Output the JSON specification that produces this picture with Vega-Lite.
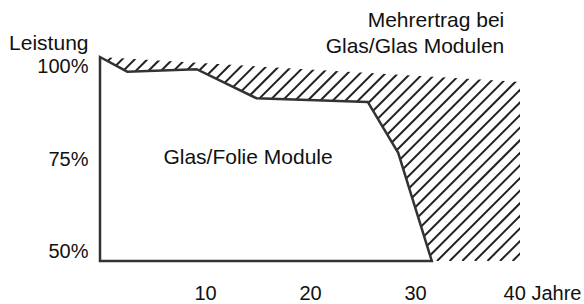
{
  "$schema": "https://vega.github.io/schema/vega-lite/v6.json",
  "width": 420,
  "height": 204,
  "autosize": {"type": "none"},
  "padding": {"left": 100, "top": 57, "right": 64, "bottom": 43},
  "background": "white",
  "config": {
    "view": {"stroke": null},
    "axis": {
      "domain": false,
      "ticks": false,
      "grid": false,
      "labelFont": "Liberation Sans",
      "labelFontSize": 20,
      "labelColor": "#111111",
      "titleFont": "Liberation Sans",
      "titleFontSize": 21,
      "titleColor": "#111111",
      "titleFontWeight": "normal"
    },
    "text": {"font": "Liberation Sans", "fontSize": 21, "color": "#111111"}
  },
  "datasets": {
    "hatch": [
      {"x": -19.5, "y": 50, "x2": -0.07, "y2": 100},
      {"x": -18.3, "y": 50, "x2": 1.13, "y2": 100},
      {"x": -17.1, "y": 50, "x2": 2.33, "y2": 100},
      {"x": -15.9, "y": 50, "x2": 3.53, "y2": 100},
      {"x": -14.7, "y": 50, "x2": 4.73, "y2": 100},
      {"x": -13.5, "y": 50, "x2": 5.93, "y2": 100},
      {"x": -12.3, "y": 50, "x2": 7.13, "y2": 100},
      {"x": -11.1, "y": 50, "x2": 8.33, "y2": 100},
      {"x": -9.9, "y": 50, "x2": 9.53, "y2": 100},
      {"x": -8.7, "y": 50, "x2": 10.73, "y2": 100},
      {"x": -7.5, "y": 50, "x2": 11.93, "y2": 100},
      {"x": -6.3, "y": 50, "x2": 13.13, "y2": 100},
      {"x": -5.1, "y": 50, "x2": 14.33, "y2": 100},
      {"x": -3.9, "y": 50, "x2": 15.53, "y2": 100},
      {"x": -2.7, "y": 50, "x2": 16.73, "y2": 100},
      {"x": -1.5, "y": 50, "x2": 17.93, "y2": 100},
      {"x": -0.3, "y": 50, "x2": 19.13, "y2": 100},
      {"x": 0.9, "y": 50, "x2": 20.33, "y2": 100},
      {"x": 2.1, "y": 50, "x2": 21.53, "y2": 100},
      {"x": 3.3, "y": 50, "x2": 22.73, "y2": 100},
      {"x": 4.5, "y": 50, "x2": 23.93, "y2": 100},
      {"x": 5.7, "y": 50, "x2": 25.13, "y2": 100},
      {"x": 6.9, "y": 50, "x2": 26.33, "y2": 100},
      {"x": 8.1, "y": 50, "x2": 27.53, "y2": 100},
      {"x": 9.3, "y": 50, "x2": 28.73, "y2": 100},
      {"x": 10.5, "y": 50, "x2": 29.93, "y2": 100},
      {"x": 11.7, "y": 50, "x2": 31.13, "y2": 100},
      {"x": 12.9, "y": 50, "x2": 32.33, "y2": 100},
      {"x": 14.1, "y": 50, "x2": 33.53, "y2": 100},
      {"x": 15.3, "y": 50, "x2": 34.73, "y2": 100},
      {"x": 16.5, "y": 50, "x2": 35.93, "y2": 100},
      {"x": 17.7, "y": 50, "x2": 37.13, "y2": 100},
      {"x": 18.9, "y": 50, "x2": 38.33, "y2": 100},
      {"x": 20.1, "y": 50, "x2": 39.53, "y2": 100},
      {"x": 21.3, "y": 50, "x2": 40.73, "y2": 100},
      {"x": 22.5, "y": 50, "x2": 41.93, "y2": 100},
      {"x": 23.7, "y": 50, "x2": 43.13, "y2": 100},
      {"x": 24.9, "y": 50, "x2": 44.33, "y2": 100},
      {"x": 26.1, "y": 50, "x2": 45.53, "y2": 100},
      {"x": 27.3, "y": 50, "x2": 46.73, "y2": 100},
      {"x": 28.5, "y": 50, "x2": 47.93, "y2": 100},
      {"x": 29.7, "y": 50, "x2": 49.13, "y2": 100},
      {"x": 30.9, "y": 50, "x2": 50.33, "y2": 100},
      {"x": 32.1, "y": 50, "x2": 51.53, "y2": 100},
      {"x": 33.3, "y": 50, "x2": 52.73, "y2": 100},
      {"x": 34.5, "y": 50, "x2": 53.93, "y2": 100},
      {"x": 35.7, "y": 50, "x2": 55.13, "y2": 100},
      {"x": 36.9, "y": 50, "x2": 56.33, "y2": 100},
      {"x": 38.1, "y": 50, "x2": 57.53, "y2": 100},
      {"x": 39.3, "y": 50, "x2": 58.73, "y2": 100}
    ],
    "glasglas": [
      {"x": 0, "y": 100},
      {"x": 40, "y": 93.9}
    ],
    "glasfolie": [
      {"x": 0, "y": 100},
      {"x": 2.6, "y": 96.4},
      {"x": 9.2, "y": 97.0},
      {"x": 14.9, "y": 89.9},
      {"x": 25.5, "y": 89.0},
      {"x": 28.4, "y": 76.5},
      {"x": 31.6, "y": 50}
    ],
    "labelCenter": [
      {"x": 14.1, "y": 75.2, "label": "Glas/Folie Module"}
    ],
    "labelRight": [
      {"x": 38.5, "y": 107.4, "label": ["Mehrertrag bei", "Glas/Glas Modulen"]}
    ]
  },
  "encoding": {
    "x": {
      "field": "x",
      "type": "quantitative",
      "scale": {"domain": [0, 40], "nice": false, "zero": false},
      "axis": {
        "title": null,
        "values": [10, 20, 30, 40],
        "labelExpr": "datum.value == 40 ? '40 Jahre' : datum.label",
        "labelOffset": {"condition": {"test": "datum.value == 40", "value": 22}, "value": 0},
        "labelFlush": false,
        "labelOverlap": false,
        "labelPadding": 22
      }
    },
    "y": {
      "field": "y",
      "type": "quantitative",
      "scale": {"domain": [50, 100], "nice": false, "zero": false},
      "axis": {
        "title": "Leistung",
        "titleAngle": 0,
        "titleAlign": "right",
        "titleBaseline": "alphabetic",
        "titleX": -12,
        "titleY": -8,
        "values": [50, 75, 100],
        "labelExpr": "datum.value + '%'",
        "labelPadding": 12,
        "labelOffset": {"condition": [{"test": "datum.value == 100", "value": 9}, {"test": "datum.value == 50", "value": -10}], "value": 0}
      }
    }
  },
  "layer": [
    {
      "data": {"name": "hatch"},
      "mark": {"type": "rule", "clip": true, "color": "#222222", "strokeWidth": 2},
      "encoding": {
        "x2": {"field": "x2"},
        "y2": {"field": "y2"}
      }
    },
    {
      "data": {"name": "glasglas"},
      "mark": {"type": "area", "fill": "white", "fillOpacity": 1},
      "encoding": {
        "y2": {"datum": 100}
      }
    },
    {
      "data": {"name": "glasfolie"},
      "mark": {"type": "area", "fill": "white", "fillOpacity": 1, "stroke": "#333333", "strokeWidth": 2.5, "strokeJoin": "miter"},
      "encoding": {
        "y2": {"datum": 50}
      }
    },
    {
      "data": {"name": "labelCenter"},
      "mark": {"type": "text", "align": "center", "baseline": "middle"},
      "encoding": {
        "text": {"field": "label"}
      }
    },
    {
      "data": {"name": "labelRight"},
      "mark": {"type": "text", "align": "right", "baseline": "alphabetic", "lineHeight": 26},
      "encoding": {
        "text": {"field": "label"}
      }
    }
  ]
}
